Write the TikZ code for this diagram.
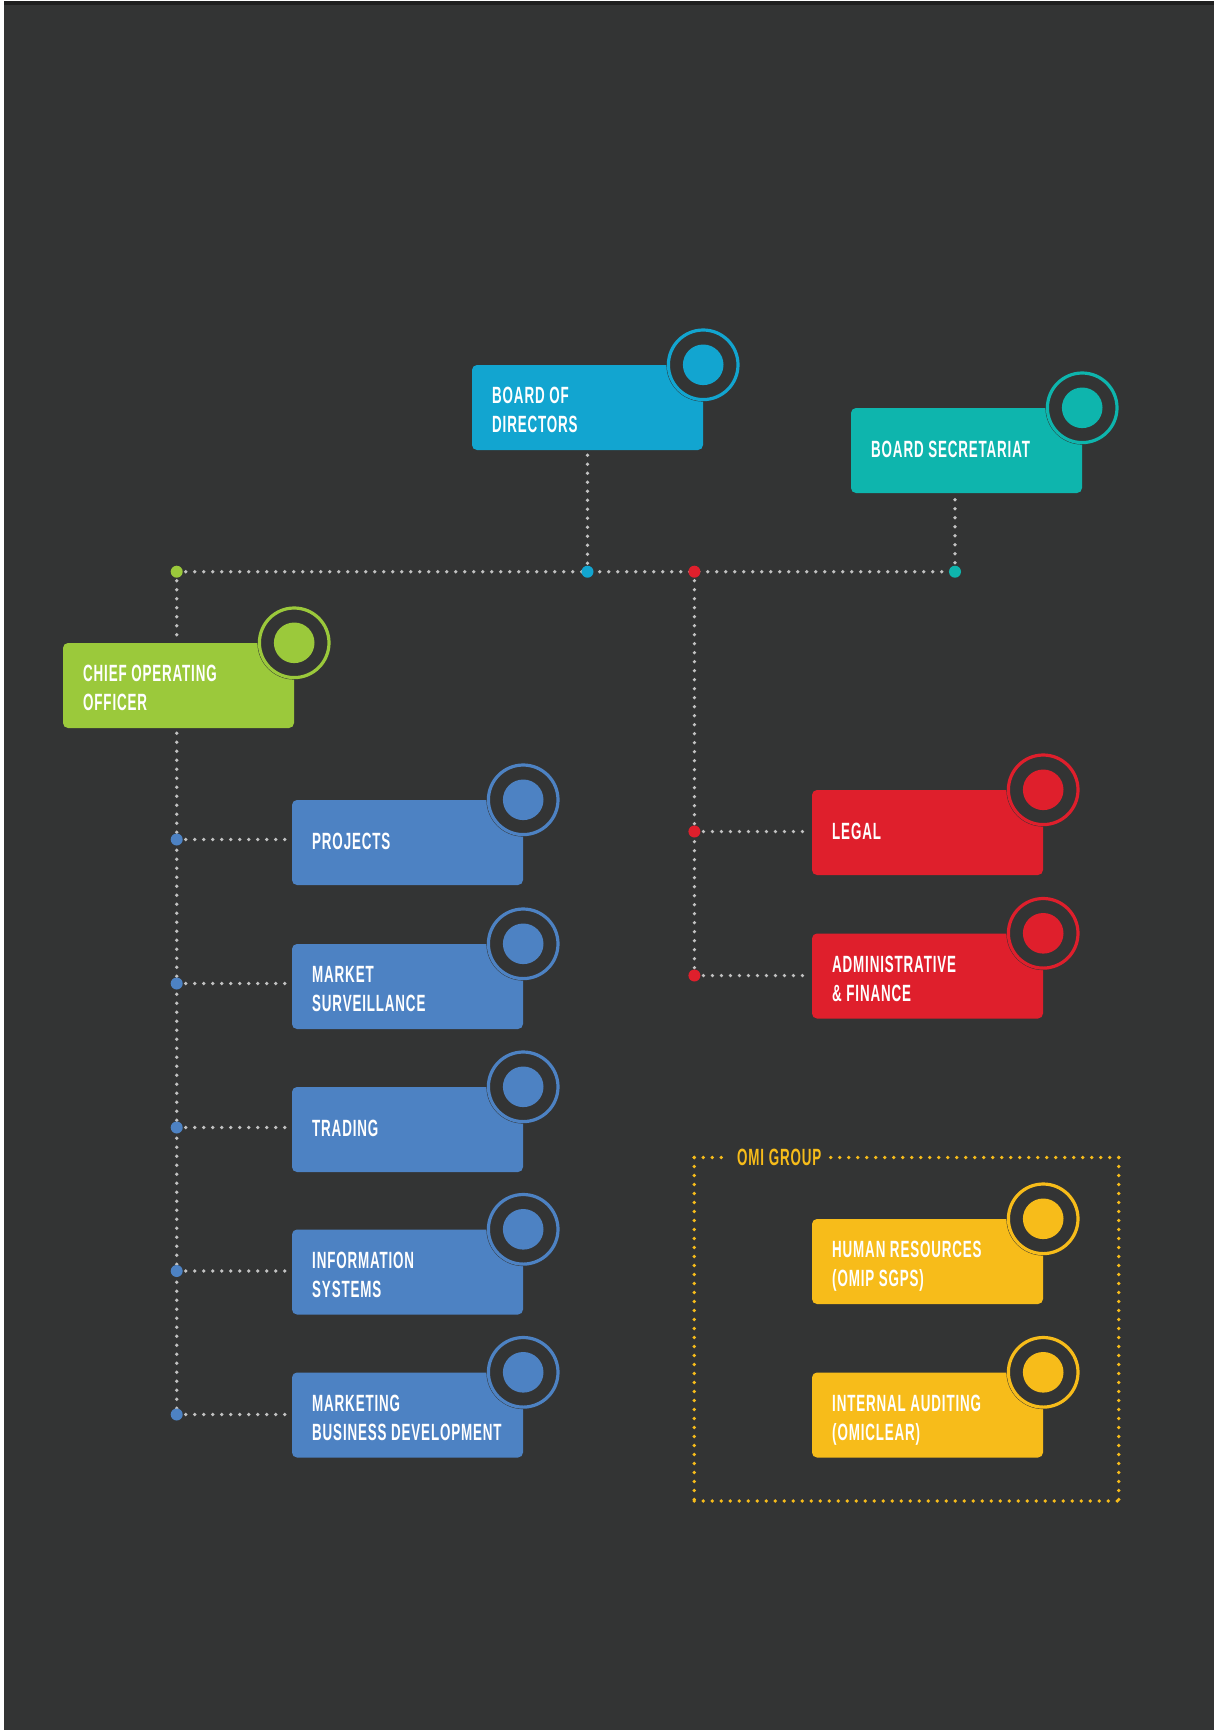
\documentclass[tikz,border=0pt]{standalone}
\usepackage{fontspec}
\newfontfamily\labfont{Liberation Sans}[FakeStretch=0.57, LetterSpace=3.6]
\usetikzlibrary{calc}
\definecolor{bgc}{HTML}{333434}
\definecolor{topc}{HTML}{1F1F1F}
\definecolor{dotgray}{HTML}{C2C2C2}
\definecolor{cbod}{HTML}{12A5D0}
\definecolor{csec}{HTML}{0EB5AD}
\definecolor{cgreen}{HTML}{9BC93B}
\definecolor{cblue}{HTML}{4D82C3}
\definecolor{cred}{HTML}{DF1F2C}
\definecolor{cyellow}{HTML}{F7BC1A}
\newcommand\mybadge[2]{%
  \fill[bgc] (#1) circle[radius=36.8];
  \draw[#2, line width=3.2pt] (#1) circle[radius=34.8];
  \fill[#2] (#1) circle[radius=20.3];}
\begin{document}
\begin{tikzpicture}[x=1pt,y=-1pt,
  box/.style={rectangle, rounded corners=5pt, minimum width=231pt, minimum height=85pt, inner sep=0pt},
  lbl/.style={font=\labfont\bfseries\fontsize{23.5}{28}\selectfont, text=white, inner sep=0pt, anchor=base west},
  dots/.style={draw=dotgray, line width=3.7pt, line cap=round, dash pattern=on 0pt off 9pt},
  ydots/.style={draw=cyellow, line width=3.8pt, line cap=round, dash pattern=on 0pt off 9pt},
]
\useasboundingbox (0,0) rectangle (1214,1730);
\fill[white] (0,0) rectangle (1214,1730);
\fill[bgc] (4,1) rectangle (1214,1730);
\fill[topc] (4,1) rectangle (1214,4.7);

% ---------- boxes ----------
\node[box, fill=cbod]   (bod) at (587.5,407.5) {};
\node[box, fill=csec]   (sec) at (966.5,450.5) {};
\node[box, fill=cgreen] (coo) at (178.5,685.5) {};
\node[box, fill=cblue]  (prj) at (407.5,842.5) {};
\node[box, fill=cblue]  (mkt) at (407.5,986.5) {};
\node[box, fill=cblue]  (trd) at (407.5,1129.5) {};
\node[box, fill=cblue]  (inf) at (407.5,1272) {};
\node[box, fill=cblue]  (mbd) at (407.5,1415) {};
\node[box, fill=cred]   (leg) at (927.5,832.5) {};
\node[box, fill=cred]   (adm) at (927.5,976) {};
\node[box, fill=cyellow] (hr) at (927.5,1261.5) {};
\node[box, fill=cyellow] (ia) at (927.5,1415) {};

% ---------- badges ----------
\mybadge{bod.north east}{cbod}
\mybadge{sec.north east}{csec}
\mybadge{coo.north east}{cgreen}
\mybadge{prj.north east}{cblue}
\mybadge{mkt.north east}{cblue}
\mybadge{trd.north east}{cblue}
\mybadge{inf.north east}{cblue}
\mybadge{mbd.north east}{cblue}
\mybadge{leg.north east}{cred}
\mybadge{adm.north east}{cred}
\mybadge{hr.north east}{cyellow}
\mybadge{ia.north east}{cyellow}

% ---------- labels ----------
\node[lbl] (bod-a) at (492,403.5) {BOARD OF};
\node[lbl] (bod-b) at (492,432.5) {DIRECTORS};
\node[lbl] (sec-a) at (871,457.5) {BOARD SECRETARIAT};
\node[lbl] (coo-a) at (83,681.5) {CHIEF OPERATING};
\node[lbl] (coo-b) at (83,710.5) {OFFICER};
\node[lbl] (prj-a) at (312,849.5) {PROJECTS};
\node[lbl] (mkt-a) at (312,982.5) {MARKET};
\node[lbl] (mkt-b) at (312,1011.5) {SURVEILLANCE};
\node[lbl] (trd-a) at (312,1136.5) {TRADING};
\node[lbl] (inf-a) at (312,1268) {INFORMATION};
\node[lbl] (inf-b) at (312,1297) {SYSTEMS};
\node[lbl] (mbd-a) at (312,1411) {MARKETING};
\node[lbl] (mbd-b) at (312,1440) {BUSINESS DEVELOPMENT};
\node[lbl] (leg-a) at (832,839.5) {LEGAL};
\node[lbl] (adm-a) at (832,972) {ADMINISTRATIVE};
\node[lbl] (adm-b) at (832,1001) {\& FINANCE};
\node[lbl] (hr-a) at (832,1257.5) {HUMAN RESOURCES};
\node[lbl] (hr-b) at (832,1286.5) {(OMIP SGPS)};
\node[lbl] (ia-a) at (832,1411) {INTERNAL AUDITING};
\node[lbl] (ia-b) at (832,1440) {(OMICLEAR)};
\node[lbl, text=cyellow] (omi) at (737,1165.5) {OMI GROUP};

% ---------- junctions ----------
\coordinate (jG) at (176.7,571.7);
\coordinate (jB) at (587.5,571.7);
\coordinate (jR) at (694.4,571.7);
\coordinate (jT) at (955,571.7);
\coordinate (j1) at (176.7,839.5);
\coordinate (j2) at (176.7,983.5);
\coordinate (j3) at (176.7,1127.5);
\coordinate (j4) at (176.7,1271);
\coordinate (j5) at (176.7,1414.5);
\coordinate (jL) at (694.4,831.5);
\coordinate (jA) at (694.4,975.5);

% ---------- connectors ----------
\draw[dots] (jG) -- (jT);
\draw[dots, shorten <=5pt] (bod.south) -- (jB);
\draw[dots, shorten <=6.5pt] (jT |- sec.south) -- (jT);
\draw[dots, shorten >=5pt] (jG) -- (jG |- coo.north);
\draw[dots, shorten <=5pt] (jG |- coo.south) -- (j5);
\draw[dots, shorten >=6pt] (j1) -- (j1 -| prj.west);
\draw[dots, shorten >=6pt] (j2) -- (j2 -| mkt.west);
\draw[dots, shorten >=6pt] (j3) -- (j3 -| trd.west);
\draw[dots, shorten >=6pt] (j4) -- (j4 -| inf.west);
\draw[dots, shorten >=6pt] (j5) -- (j5 -| mbd.west);
\draw[dots] (jR) -- (jA);
\draw[dots, shorten >=6pt] (jL) -- (jL -| leg.west);
\draw[dots, shorten >=6pt] (jA) -- (jA -| adm.west);

% junction dots
\fill[cgreen] (jG) circle[radius=6];
\fill[cbod] (jB) circle[radius=6];
\fill[cred] (jR) circle[radius=6];
\fill[csec] (jT) circle[radius=6];
\foreach \j in {j1,j2,j3,j4,j5} {\fill[cblue] (\j) circle[radius=6];}
\fill[cred] (jL) circle[radius=6];
\fill[cred] (jA) circle[radius=6];

% ---------- OMI group frame ----------
\coordinate (gTL) at (694.3,1157.5);
\coordinate (gTR) at (1118.7,1157.5);
\coordinate (gBR) at (1118.7,1501);
\coordinate (gBL) at (694.3,1501);
\draw[ydots, shorten >=6pt] (gTR) -- (gTR -| omi.east);
\draw[ydots] (gTR) -- (gBR);
\draw[ydots] (gBL) -- (gBR);
\draw[ydots] (gTL) -- (gBL);
\draw[ydots, shorten >=11pt] (gTL) -- (gTL -| omi.west);
\end{tikzpicture}
\end{document}
